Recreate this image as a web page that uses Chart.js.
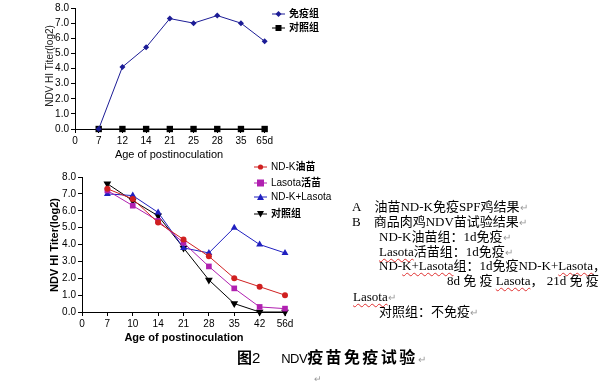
<!DOCTYPE html>
<html>
<head>
<meta charset="utf-8">
<script src="https://cdn.jsdelivr.net/npm/chart.js@4"></script>
<style>
  body { margin: 0; background: #fff; width: 608px; height: 387px; position: relative; overflow: hidden;
         font-family: "Liberation Sans", Arial, "Noto Sans CJK SC", sans-serif; }
  canvas { position: absolute; }
  .leg { position: absolute; font-size: 10px; line-height: 12px; white-space: nowrap; color: #000; }
  .leg svg { vertical-align: middle; margin-right: 4px; }
  .ttl { position: absolute; white-space: nowrap; line-height: 1; color: #000; transform: translate(-50%, -50%); }
  .ttl.v { transform: translate(-50%, -50%) rotate(-90deg); }
  .note { position: absolute; font-family: "Liberation Serif", "Noto Sans CJK SC", serif; font-size: 13px;
          line-height: 15px; white-space: nowrap; color: #000; }
  .w { text-decoration: underline wavy #e03030; text-decoration-thickness: 1px; text-underline-offset: 2px; }
  .pm { color: #999; font-size: 10px; }
</style>
</head>
<body>
<canvas id="topChart" width="235" height="165" style="left:40px;top:0px"></canvas>
<canvas id="bottomChart" width="258" height="185" style="left:40px;top:160px"></canvas>

<!-- axis titles -->
<div class="ttl v" style="left:50px;top:66px;font-size:10px;color:#222">NDV HI Titer(log2)</div>
<div class="ttl" style="left:169px;top:154px;font-size:11px">Age of postinoculation</div>
<div class="ttl v" style="left:54px;top:245px;font-size:11px;font-weight:bold">NDV HI Titer(log2)</div>
<div class="ttl" style="left:184px;top:337px;font-size:11px;font-weight:bold">Age of postinoculation</div>

<div class="leg" style="left:272px;top:7px">
  <svg width="13" height="8"><line x1="0" y1="4" x2="13" y2="4" stroke="#1c1c96"/><polygon points="6.5,1 9.5,4 6.5,7 3.5,4" fill="#1c1c96"/></svg><b style="font-family:'Noto Sans CJK SC'">免疫组</b>
</div>
<div class="leg" style="left:272px;top:21px">
  <svg width="13" height="8"><line x1="0" y1="4" x2="13" y2="4" stroke="#000"/><rect x="3.5" y="1" width="6" height="6" fill="#000"/></svg><b style="font-family:'Noto Sans CJK SC'">对照组</b>
</div>

<div class="leg" style="left:254px;top:160px">
  <svg width="13" height="8"><line x1="0" y1="4" x2="13" y2="4" stroke="#d02020"/><circle cx="6.5" cy="4" r="2.6" fill="#d02020"/></svg>ND-K<b style="font-family:'Noto Sans CJK SC'">油苗</b>
</div>
<div class="leg" style="left:254px;top:176px">
  <svg width="13" height="8"><line x1="0" y1="4" x2="13" y2="4" stroke="#b020b0"/><rect x="3" y="0.5" width="7" height="7" fill="#b020b0"/></svg>Lasota<b style="font-family:'Noto Sans CJK SC'">活苗</b>
</div>
<div class="leg" style="left:254px;top:191px">
  <svg width="13" height="8"><line x1="0" y1="4" x2="13" y2="4" stroke="#2020c0"/><polygon points="6.5,0.5 10,7 3,7" fill="#2020c0"/></svg>ND-K+Lasota
</div>
<div class="leg" style="left:254px;top:207px">
  <svg width="13" height="8"><line x1="0" y1="4" x2="13" y2="4" stroke="#000"/><polygon points="3,1 10,1 6.5,7.5" fill="#000"/></svg><b style="font-family:'Noto Sans CJK SC'">对照组</b>
</div>

<div class="note" style="left:352px;top:199px">A&nbsp;&nbsp;&nbsp;&nbsp;油苗ND-K免疫SPF鸡结果<span class="pm">↵</span></div>
<div class="note" style="left:352px;top:214px">B&nbsp;&nbsp;&nbsp;&nbsp;商品肉鸡NDV苗试验结果<span class="pm">↵</span></div>
<div class="note" style="left:379px;top:229px">ND-K油苗组：1d免疫<span class="pm">↵</span></div>
<div class="note" style="left:379px;top:244px"><span class="w">Lasota</span>活苗组：1d免疫<span class="pm">↵</span></div>
<div class="note" style="left:379px;top:258px">ND-<span class="w">K+Lasota</span>组：1d免疫ND-K+<span class="w">Lasota</span>，</div>
<div class="note" style="left:447px;top:273px">8d 免 疫 <span class="w">Lasota</span>， 21d 免 疫</div>
<div class="note" style="left:353px;top:289px"><span class="w">Lasota</span><span class="pm">↵</span></div>
<div class="note" style="left:379px;top:304px">对照组：不免疫<span class="pm">↵</span></div>

<div style="position:absolute;left:237px;top:346px;font-size:15px;line-height:20px;white-space:nowrap;font-family:'Liberation Sans','Noto Sans CJK SC',sans-serif;">
  <b style="font-family:'Noto Sans CJK SC'">图</b>2&nbsp;&nbsp;&nbsp;&nbsp;&nbsp;<span style="font-size:13px;letter-spacing:-0.5px">NDV</span><b style="font-family:'Noto Sans CJK SC';font-size:16px;letter-spacing:2.4px">疫苗免疫试验</b><span class="pm">↵</span>
</div>
<div style="position:absolute;left:314px;top:374px;font-size:9px;color:#999">↵</div>

<script>
// top chart: oil vaccine ND-K on SPF chickens
const topLabels = ['0', '7', '12', '14', '21', '25', '28', '35', '65d'];
const immuneGroup = [0, 4.1, 5.4, 7.3, 7.0, 7.5, 7.0, 5.8];
const controlTop = [0, 0, 0, 0, 0, 0, 0, 0];

// bottom chart: broiler NDV vaccine trial
const bottomLabels = ['0', '7', '10', '14', '21', '28', '35', '42', '56d'];
const ndkOil = [7.3, 6.7, 5.3, 4.3, 3.3, 2.0, 1.5, 1.0];
const lasotaLive = [7.2, 6.3, 5.4, 4.1, 2.7, 1.4, 0.3, 0.2];
const ndkLasota = [7.0, 6.9, 5.9, 3.8, 3.5, 5.0, 4.0, 3.5];
const controlBottom = [7.6, 6.6, 5.7, 3.8, 1.9, 0.5, 0.0, 0.0];

const yTicks = ['0.0', '1.0', '2.0', '3.0', '4.0', '5.0', '6.0', '7.0', '8.0'];

Chart.defaults.font.family = '"Liberation Sans", Arial, sans-serif';
Chart.defaults.color = '#000';

function pts(arr) {
  return arr.map((v, i) => ({ x: i + 1, y: v }));
}

function line(data, color, style, radius, rotation) {
  return {
    data: pts(data),
    borderColor: color,
    backgroundColor: color,
    borderWidth: 1,
    pointStyle: style,
    pointRadius: radius,
    pointRotation: rotation || 0,
    pointBorderWidth: 0,
    tension: 0,
    clip: false
  };
}

// axis titles are html (a scale title here hides the first x label)
function axes(labels, yWidth, xHeight) {
  const axisGrid = { display: true, drawOnChartArea: false, drawTicks: true, tickLength: 4, color: '#000' };
  return {
    x: {
      type: 'linear', min: 0, max: 8,
      grid: axisGrid,
      border: { display: true, color: '#000', width: 1 },
      ticks: { stepSize: 1, padding: 2, font: { size: 10 }, autoSkip: false, maxRotation: 0,
               callback: v => labels[v] },
      afterFit: s => { s.height = xHeight; }
    },
    y: {
      min: 0, max: 8,
      grid: axisGrid,
      border: { display: true, color: '#000', width: 1 },
      ticks: { stepSize: 1, padding: 2, font: { size: 10 }, callback: v => yTicks[v] },
      afterFit: s => { s.width = yWidth; }
    }
  };
}

const baseOpts = {
  responsive: false,
  animation: false,
  plugins: { legend: { display: false }, tooltip: { enabled: false } }
};

new Chart(document.getElementById('topChart'), {
  type: 'line',
  data: {
    datasets: [
      line(immuneGroup, '#1c1c96', 'rectRot', 3),
      line(controlTop, '#000', 'rect', 4.5)
    ]
  },
  options: Object.assign({}, baseOpts, {
    layout: { padding: { top: 6, right: 10, left: 0, bottom: 0 } },
    scales: axes(topLabels, 35, 36)
  })
});

new Chart(document.getElementById('bottomChart'), {
  type: 'line',
  data: {
    datasets: [
      line(ndkOil, '#d02020', 'circle', 3),
      line(lasotaLive, '#b020b0', 'rect', 4),
      line(ndkLasota, '#2020c0', 'triangle', 4),
      line(controlBottom, '#000', 'triangle', 4.5, 180)
    ]
  },
  options: Object.assign({}, baseOpts, {
    layout: { padding: { top: 17, right: 13, left: 0, bottom: 0 } },
    scales: axes(bottomLabels, 42, 33)
  })
});
</script>
</body>
</html>
